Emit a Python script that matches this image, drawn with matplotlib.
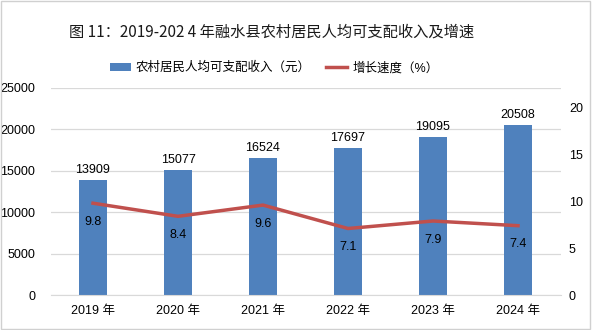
import matplotlib.pyplot as plt
from matplotlib.patches import Rectangle
import numpy as np

plt.rcParams['font.family'] = ['Liberation Sans', 'Noto Sans CJK SC', 'DejaVu Sans']

years = ["2019 年", "2020 年", "2021 年", "2022 年", "2023 年", "2024 年"]
income = [13909, 15077, 16524, 17697, 19095, 20508]
growth = [9.8, 8.4, 9.6, 7.1, 7.9, 7.4]

bar_color = "#4F81BD"
line_color = "#C0504D"

fig = plt.figure(figsize=(5.92, 3.30), dpi=100)
ax = fig.add_axes([50.5 / 592, 35 / 330, 510 / 592, 207 / 330])
ax2 = ax.twinx()

x = np.arange(len(years))
ax.bar(x, income, width=0.32, color=bar_color, zorder=2, label="农村居民人均可支配收入（元）")
for xi, v in zip(x, income):
    ax.text(xi, v + 500, str(v), ha="center", va="bottom", fontsize=9, color="#000000")

ax.set_xlim(-0.5, len(years) - 0.5)
ax.set_ylim(0, 25000)
ax.set_yticks(range(0, 25001, 5000))
ax.set_xticks(x)
ax.set_xticklabels(years, fontsize=9)
ax.tick_params(axis="y", labelsize=9, length=0, pad=11)
ax.tick_params(axis="x", length=0, pad=7)
ax.grid(axis="y", color="#D9D9D9", linewidth=0.9, zorder=0)
ax.set_axisbelow(True)
for s in ["top", "left", "right"]:
    ax.spines[s].set_visible(False)
ax.spines["bottom"].set_color("#D9D9D9")

ax2.plot(x, growth, color=line_color, linewidth=2.5, zorder=3, label="增长速度（%）")
for xi, v in zip(x, growth):
    ax2.annotate(str(v), (xi, v), xytext=(0, -9), textcoords="offset points",
                 ha="center", va="top", fontsize=9, color="#000000")
ax2.set_ylim(0, 22.1)
ax2.set_yticks(range(0, 21, 5))
ax2.tick_params(axis="y", labelsize=9, length=0, pad=6)
for s in ["top", "left", "right", "bottom"]:
    ax2.spines[s].set_visible(False)

h1, l1 = ax.get_legend_handles_labels()
h2, l2 = ax2.get_legend_handles_labels()
fig.legend(h1 + h2, l1 + l2, loc="center", bbox_to_anchor=(274 / 592, 1 - 68 / 330), ncol=2,
           frameon=False, fontsize=9, handlelength=1.7, handleheight=0.55, columnspacing=1.2,
           handletextpad=0.4)

fig.suptitle("图 11：2019-202 4 年融水县农村居民人均可支配收入及增速", x=272 / 592, y=1 - 32 / 330,
             va="center", fontsize=11, family=["Noto Sans CJK SC", "DejaVu Sans"], color="#1a1a1a")

fig.patches.append(Rectangle((0.002, 0.003), 0.995, 0.993, transform=fig.transFigure,
                             fill=False, edgecolor="#D0D0D0", linewidth=1))

fig.savefig("out.png", dpi=100)
